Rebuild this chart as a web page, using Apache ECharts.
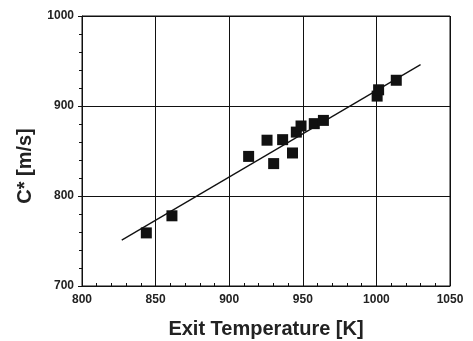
<!DOCTYPE html>
<html><head><meta charset="utf-8">
<script src="https://cdn.jsdelivr.net/npm/echarts@6/dist/echarts.min.js"></script>
<style>html,body{margin:0;padding:0;background:#fff}#c{width:473px;height:341px}</style>
</head><body><div id="c"></div>
<script>
const exitTemp = [843.7, 861.1, 913.2, 925.7, 930.2, 936.3, 943.0, 945.6, 948.8, 957.8, 964.0, 1000.5, 1001.5, 1013.5];
const cStar    = [759,   778,   844,   862,   836,   862.6, 847.8, 871,   877.8, 880.4, 884,   911,    918,    928.6];
const fitX = [827, 1030];
const fitY = [751, 946];
const xTicks = [800, 850, 900, 950, 1000, 1050];
const yTicks = [700, 800, 900, 1000];

const chart = echarts.init(document.getElementById('c'));
const font = '"Liberation Sans", Arial, sans-serif';
chart.setOption({
  animation: false,
  grid: {left: 82, right: 23, top: 16, bottom: 55, show: true, borderColor: '#111', borderWidth: 1,
         outerBoundsMode: 'none', containLabel: false},
  xAxis: {
    type: 'value', min: xTicks[0], max: xTicks[xTicks.length-1], interval: 50,
    name: 'Exit Temperature [K]', nameLocation: 'middle', nameGap: 33,
    nameTextStyle: {fontFamily: font, fontSize: 20, fontWeight: 'bold', color: '#222'},
    axisLine: {lineStyle: {color: '#111', width: 1}},
    axisTick: {inside: true, length: 4, lineStyle: {color: '#111'}},
    minorTick: {show: true, splitNumber: 5, length: 3, lineStyle: {color: '#111'}},
    axisLabel: {fontFamily: font, fontSize: 12, fontWeight: 'bold', color: '#222', margin: 8,
                formatter: v => String(v)},
    splitLine: {show: true, lineStyle: {color: '#111', width: 1}}
  },
  yAxis: {
    type: 'value', min: yTicks[0], max: yTicks[yTicks.length-1], interval: 100,
    name: 'C* [m/s]', nameLocation: 'middle', nameGap: 47,
    nameTextStyle: {fontFamily: font, fontSize: 20, fontWeight: 'bold', color: '#222', padding: [0, 30, 0, 0]},
    axisLine: {lineStyle: {color: '#111', width: 1}},
    axisTick: {length: 4, lineStyle: {color: '#111'}},
    minorTick: {show: true, splitNumber: 5, length: 3, lineStyle: {color: '#111'}},
    axisLabel: {fontFamily: font, fontSize: 12, fontWeight: 'bold', color: '#222', margin: 8,
                formatter: v => String(v)},
    splitLine: {show: true, lineStyle: {color: '#111', width: 1}}
  },
  series: [
    {type: 'line', data: fitX.map((x, i) => [x, fitY[i]]), symbol: 'none',
     lineStyle: {color: '#111', width: 1.3}, z: 2},
    {type: 'scatter', data: exitTemp.map((x, i) => [x, cStar[i]]), symbol: 'rect', symbolSize: 11,
     itemStyle: {color: '#111', opacity: 1}, z: 3}
  ]
});
</script></body></html>
